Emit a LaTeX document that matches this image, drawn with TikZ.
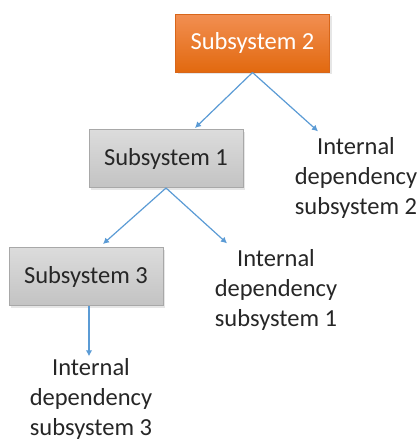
\documentclass[tikz,border=0pt]{standalone}
\usepackage{fontspec}
\setmainfont{Carlito}
\usetikzlibrary{arrows.meta,shadows}
\definecolor{orangetop}{HTML}{F28F52}
\definecolor{orangebot}{HTML}{E2690F}
\definecolor{orangeline}{HTML}{D8661A}
\definecolor{graytop}{HTML}{DCDCDC}
\definecolor{graybot}{HTML}{C3C3C3}
\definecolor{grayline}{HTML}{A8A8A8}
\definecolor{linkblue}{HTML}{5B9BD5}
\definecolor{textgray}{HTML}{262626}

\begin{document}
\begin{tikzpicture}[x=1pt,y=-1pt,
  font=\fontsize{24.5}{30}\selectfont,
  subsys/.style={rectangle,draw=grayline,line width=1pt,top color=graytop,bottom color=graybot,
    text=textgray,minimum width=154pt,minimum height=58pt,inner sep=0pt,
    drop shadow={opacity=0.2,shadow xshift=2pt,shadow yshift=-2pt}},
  topsys/.style={subsys,draw=orangeline,top color=orangetop,bottom color=orangebot,text=white},
  internal/.style={align=center,inner sep=0pt,text=textgray},
  link/.style={draw=linkblue,line width=1.2pt,-{Latex[length=6pt,width=6.5pt]}}]

\useasboundingbox (0,0) rectangle (419,442);

\node[topsys] (sub2) at (252.5,43) {Subsystem 2};
\node[subsys] (sub1) at (166,158.5) {Subsystem 1};
\node[subsys] (sub3) at (86,276.5) {Subsystem 3};

\node[internal] (int2) at (356,178) {Internal\\dependency\\subsystem 2};
\node[internal] (int1) at (276,290) {Internal\\dependency\\subsystem 1};
\node[internal] (int3) at (91,399) {Internal\\dependency\\subsystem 3};

\draw[link] (sub2.south) -- ([xshift=29pt,yshift=1pt]sub1.north);
\draw[link] (sub2.south) -- ([xshift=-38pt,yshift=6pt]int2.north);
\draw[link] (sub1.south) -- ([xshift=17pt,yshift=3pt]sub3.north);
\draw[link] (sub1.south) -- ([xshift=-49pt,yshift=6pt]int1.north);
\draw[link] ([xshift=3pt]sub3.south) -- ([xshift=-2pt,yshift=2pt]int3.north);

\end{tikzpicture}
\end{document}
